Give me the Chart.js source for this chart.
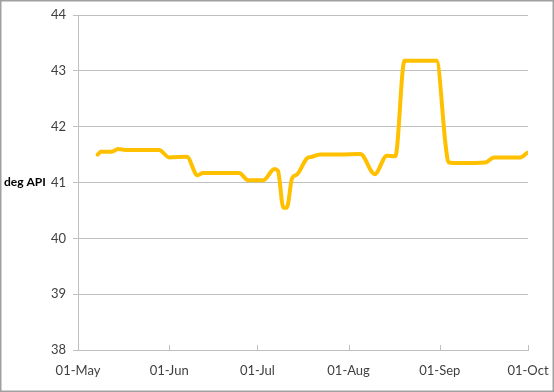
<!DOCTYPE html>
<html>
<head>
<meta charset="utf-8">
<script src="https://cdn.jsdelivr.net/npm/chart.js@4"></script>
<style>
html,body{margin:0;padding:0;background:#fff;}
#wrap{width:554px;height:392px;position:relative;}
</style>
</head>
<body>
<div id="wrap"><canvas id="c" width="554" height="392"></canvas></div>
<script>
// Day offsets counted from 01-May
const dayOffsets = [6.7, 7.8, 11.5, 13.6, 16.6, 27.6, 31, 37, 40.6, 42.5, 54.8, 57.9, 63, 66.8, 68, 69.8, 71, 72.8, 74.4, 77.8, 79.5, 82.4, 89, 96, 100.9, 105, 107.9, 111, 121.9, 125.1, 126, 130, 138.5, 141.4, 150.4, 152.7];
const apiValues  = [41.50, 41.55, 41.55, 41.60, 41.58, 41.58, 41.45, 41.46, 41.13, 41.17, 41.17, 41.04, 41.04, 41.24, 41.21, 40.55, 40.55, 41.08, 41.14, 41.43, 41.46, 41.50, 41.50, 41.51, 41.15, 41.48, 41.47, 43.18, 43.18, 41.62, 41.36, 41.35, 41.36, 41.45, 41.45, 41.53];
const tickDays   = [0, 31, 61, 92, 123, 153];
const tickLabels = ['01-May', '01-Jun', '01-Jul', '01-Aug', '01-Sep', '01-Oct'];
const yTitle = 'deg API';

const points = dayOffsets.map((d, i) => ({x: d, y: apiValues[i]}));
const gridColor = '#BFBFBF';
const fontFamily = 'Lato, "Open Sans", sans-serif';

const decor = {
  id: 'decor',
  afterDraw(chart) {
    const ctx = chart.ctx;
    const xs = chart.scales.x, ca = chart.chartArea;
    ctx.save();
    // inside tick marks on x axis
    ctx.strokeStyle = gridColor;
    ctx.lineWidth = 1;
    tickDays.forEach(d => {
      const px = Math.round(xs.getPixelForValue(d)) + 0.5;
      ctx.beginPath();
      ctx.moveTo(px, ca.bottom);
      ctx.lineTo(px, ca.bottom - 5);
      ctx.stroke();
    });
    // axis title (horizontal, Excel style)
    ctx.fillStyle = '#000';
    ctx.font = 'bold 12px ' + fontFamily;
    ctx.textAlign = 'left';
    ctx.textBaseline = 'middle';
    ctx.fillText(yTitle, 4, (ca.top + ca.bottom) / 2);
    // outer border
    ctx.strokeStyle = '#A0A0A0';
    ctx.lineWidth = 1.5;
    ctx.strokeRect(0.75, 0.75, chart.width - 1.5, chart.height - 1.5);
    ctx.restore();
  }
};

new Chart(document.getElementById('c'), {
  type: 'line',
  data: {
    datasets: [{
      data: points,
      borderColor: '#FFC000',
      borderWidth: 4,
      pointRadius: 0,
      fill: false,
      cubicInterpolationMode: 'monotone',
      borderCapStyle: 'round',
      borderJoinStyle: 'round'
    }]
  },
  options: {
    responsive: false,
    animation: false,
    layout: {padding: {left: 0, top: 15, right: 26, bottom: 0}},
    plugins: {legend: {display: false}, tooltip: {enabled: false}},
    scales: {
      x: {
        type: 'linear',
        min: tickDays[0],
        max: tickDays[tickDays.length - 1],
        afterBuildTicks: s => { s.ticks = tickDays.map(v => ({value: v})); },
        afterFit: s => { s.height = 42; s.paddingLeft = 0; s.paddingRight = 0; },
        ticks: {
          autoSkip: false,
          maxRotation: 0,
          padding: 13,
          color: '#404040',
          font: {family: fontFamily, size: 13},
          callback: v => tickLabels[tickDays.indexOf(v)]
        },
        grid: {drawOnChartArea: false, drawTicks: false, color: gridColor},
        border: {color: gridColor}
      },
      y: {
        min: 38,
        max: 44,
        afterFit: s => { s.width = 78; s.paddingTop = 0; s.paddingBottom = 0; },
        ticks: {
          stepSize: 1,
          padding: 7,
          color: '#404040',
          font: {family: fontFamily, size: 13}
        },
        grid: {color: gridColor, tickLength: 5},
        border: {color: gridColor}
      }
    }
  },
  plugins: [decor]
});
</script>
</body>
</html>
